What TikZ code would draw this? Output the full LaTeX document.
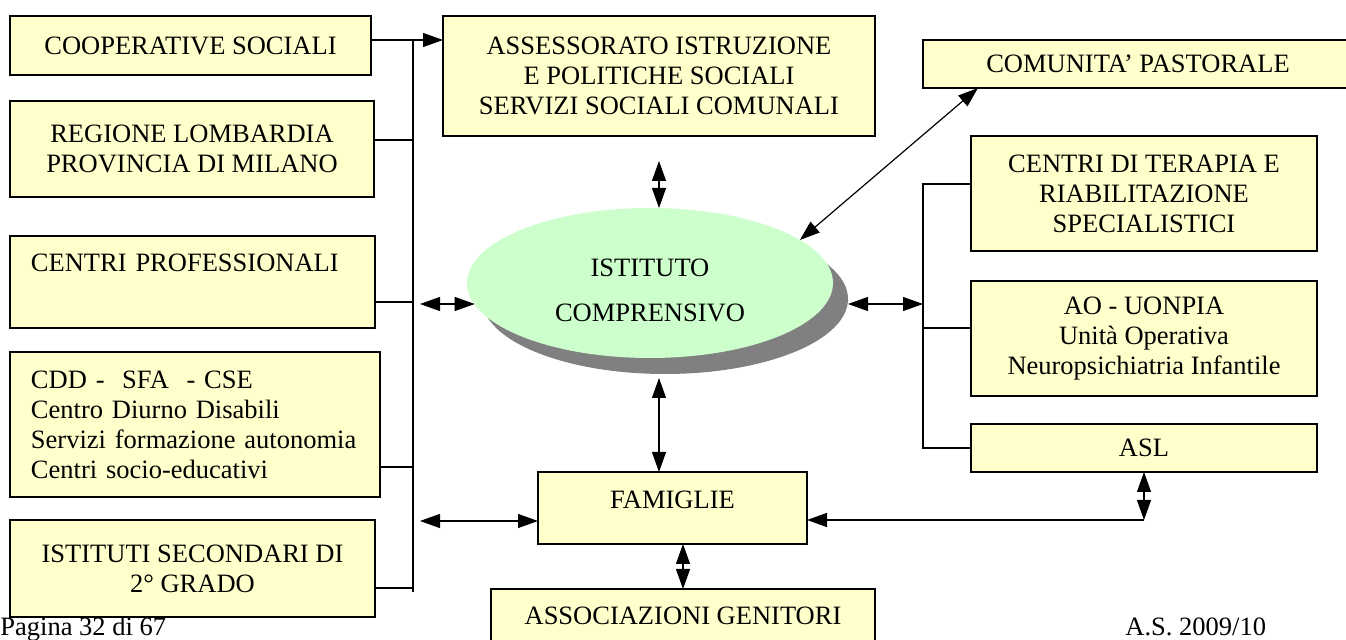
\documentclass[tikz,border=0pt]{standalone}
\usepackage{fontspec}
\setmainfont{Liberation Serif}
\usetikzlibrary{arrows.meta,shapes.geometric,shadows}
\definecolor{boxyellow}{HTML}{FFFFCC}
\definecolor{ellgreen}{HTML}{CCFFCC}
\tikzset{
    >={Triangle[length=10pt,width=7pt]},
    ente/.style={
        rectangle,
        draw=black, line width=0.6pt,
        fill=boxyellow,
        align=center,
        outer sep=0pt,
        font=\fontsize{13.25pt}{15pt}\selectfont
    },
    istituto/.style={
        ellipse,
        fill=ellgreen,
        minimum width=183pt,
        minimum height=75pt,
        align=center,
        outer sep=0pt,
        drop shadow={shadow xshift=7.5pt, shadow yshift=-8pt, fill=gray, opacity=1},
        font=\fontsize{13.25pt}{22.5pt}\selectfont
    },
    link/.style={draw, line width=0.6pt},
    pagetext/.style={
        anchor=base west,
        inner sep=0pt,
        font=\fontsize{13.25pt}{15pt}\selectfont
    }
}

\begin{document}
\begin{tikzpicture}[x=0.5pt, y=-0.5pt]
\useasboundingbox (0,0) rectangle (1346,640);

% enti a sinistra
\node[ente, minimum width=180.5pt, minimum height=29.5pt] (coop) at (190.5,45.5) {COOPERATIVE SOCIALI};
\node[ente, minimum width=182pt, minimum height=48pt] (regione) at (192,149) {REGIONE LOMBARDIA\\PROVINCIA DI MILANO};
\node[ente, minimum width=182.5pt, minimum height=46pt, text width=161.5pt, align=left, text depth=19pt] (centriprof) at (192.5,282) {CENTRI PROFESSIONALI};
\node[ente, minimum width=185pt, minimum height=72.5pt, text width=164pt, align=left] (cdd) at (195,424.5) {CDD -\ \ SFA\ \ - CSE\\Centro Diurno Disabili\\Servizi formazione autonomia\\Centri socio-educativi};
\node[ente, minimum width=182.5pt, minimum height=48.5pt] (istsec) at (192.5,568.5) {ISTITUTI SECONDARI DI\\2° GRADO};

% centro
\node[ente, minimum width=216pt, minimum height=60pt] (assess) at (659,76) {ASSESSORATO ISTRUZIONE\\E POLITICHE SOCIALI\\SERVIZI SOCIALI COMUNALI};
\node[istituto] (ist) at (650,283) {\rule{0pt}{15.8pt}ISTITUTO\\COMPRENSIVO};
\node[ente, minimum width=134.5pt, minimum height=36pt, text depth=8pt] (famiglie) at (672.5,508) {FAMIGLIE};
\node[ente, minimum width=192pt, minimum height=27pt] (assoc) at (683,616) {ASSOCIAZIONI GENITORI};

% enti a destra
\node[ente, minimum width=215pt, minimum height=24pt] (comunita) at (1138,64) {COMUNITA’ PASTORALE};
\node[ente, minimum width=173pt, minimum height=57.5pt] (centriter) at (1144,193.5) {CENTRI DI TERAPIA E\\RIABILITAZIONE\\SPECIALISTICI};
\node[ente, minimum width=173pt, minimum height=57.5pt] (ao) at (1144,338.5) {AO - UONPIA\\Unità Operativa\\Neuropsichiatria Infantile};
\node[ente, minimum width=173pt, minimum height=24pt] (asl) at (1144,448) {ASL};

\node[pagetext] (pagina) at (0,636) {Pagina 32 di 67};
\node[pagetext] (anno) at (1125,636) {A.S. 2009/10};

\coordinate (lbtop) at (413,40);
\coordinate (lbbot) at (413,592);
\coordinate (lprof) at (420,304);
\coordinate (lfam) at (420,521);
\coordinate (rbtop) at (923,184);
\coordinate (rbist) at (923,304);
\coordinate (rbbot) at (923,448);
\coordinate (aslc) at (asl.south |- 0,520);

% collegamenti
\draw[link] (lbtop) -- (lbbot);
\draw[link,->] (coop.east |- lbtop) -- (assess.west |- lbtop);
\foreach \n/\y in {regione/140, centriprof/302, cdd/467, istsec/588}
    \draw[link] (\n.east |- 0,\y) -- (lbtop |- 0,\y);
\draw[link,<->] (lprof) -- (lprof -| ist.187);
\draw[link,<->] (lfam) -- (lfam -| famiglie.west);
\draw[link,<->] ([yshift=-12.5pt]assess.south) -- (assess.south |- ist.north);
\draw[link,<->] (assess.south |- 0,378) -- (assess.south |- famiglie.north);
\draw[link,<->] (famiglie.south -| assoc.north) -- (assoc.north);
\draw[link,<->] (ist.16) -- ([xshift=27.5pt]comunita.south west);
\draw[link,<->, shorten >=7.5pt] (rbist) -- (rbist -| ist.east);
\draw[link] (centriter.west |- rbtop) -- (rbtop) -- (rbbot) -- (asl.west);
\draw[link] (rbtop |- 0,328) -- (ao.west |- 0,328);
\draw[link,<->] (asl.south) -- (aslc);
\draw[link,->] (aslc) -- (aslc -| famiglie.east);
\end{tikzpicture}
\end{document}
